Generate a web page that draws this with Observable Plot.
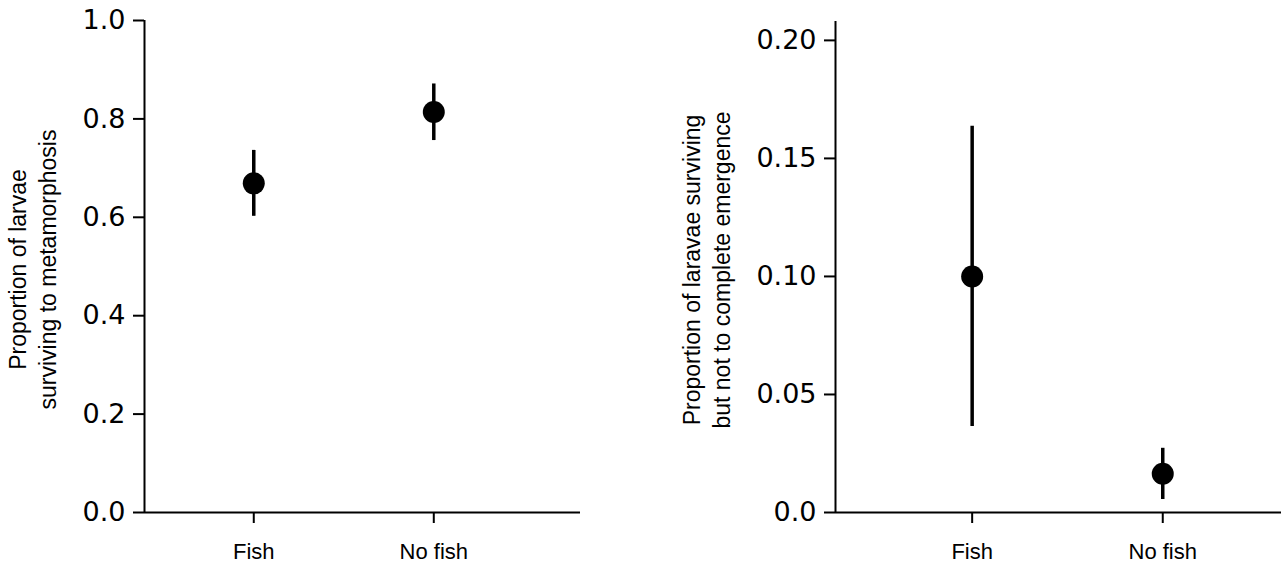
<!DOCTYPE html>
<html>
<head>
<meta charset="utf-8">
<script src="https://cdn.jsdelivr.net/npm/d3@7"></script>
<script src="https://cdn.jsdelivr.net/npm/@observablehq/plot@0.6"></script>
<style>
  body { margin: 0; background: #fff; }
  #wrap { position: relative; width: 1281px; height: 567px; overflow: hidden; background: #fff; }
  #wrap > svg { position: absolute; top: 0; }
</style>
</head>
<body>
<div id="wrap"></div>
<script>
// Data
const categories = ["Fish", "No fish"];

// Panel A: proportion surviving to metamorphosis
const metaMean  = [0.669, 0.814];
const metaLow   = [0.602, 0.756];
const metaHigh  = [0.736, 0.871];
const metaTicks = [0, 0.2, 0.4, 0.6, 0.8, 1.0];
const metaTickLabels = ["0.0", "0.2", "0.4", "0.6", "0.8", "1.0"];
const metaTitle = "Proportion of larvae\nsurviving to metamorphosis";

// Panel B: proportion surviving but not completing emergence
const emergMean  = [0.100, 0.0164];
const emergLow   = [0.0364, 0.0055];
const emergHigh  = [0.1636, 0.0272];
const emergTicks = [0, 0.05, 0.10, 0.15, 0.20];
const emergTickLabels = ["0.0", "0.05", "0.10", "0.15", "0.20"];
const emergTitle = "Proportion of laravae surviving\nbut not to complete emergence";

function rows(mean, low, high) {
  return categories.map((c, i) => ({cat: c, idx: i, mean: mean[i], low: low[i], high: high[i]}));
}

function panel({data, xDomain, yDomain, ticks, tickLabels, title, width, marginLeft, marginRight, marginTop, titleDx}) {
  return Plot.plot({
    width, height: 567,
    marginLeft, marginRight, marginTop, marginBottom: 55,
    style: {fontFamily: "DejaVu Sans", background: "#fff", color: "#000", overflow: "visible"},
    x: {type: "linear", domain: xDomain},
    y: {type: "linear", domain: yDomain},
    marks: [
      Plot.ruleY([yDomain[0]], {stroke: "#000", strokeWidth: 2}),
      Plot.ruleX([xDomain[0]], {y1: yDomain[0], y2: yDomain[1], stroke: "#000", strokeWidth: 2}),
      Plot.axisY({ticks, tickFormat: (d, i) => tickLabels[i], tickSize: 11, tickPadding: 8, fontSize: 27, label: null, strokeWidth: 2, fill: "#000"}),
      Plot.axisX({ticks: [0, 1], tickFormat: i => categories[i], tickSize: 11, tickPadding: 20, fontSize: 22, fontFamily: "Liberation Sans", label: null, strokeWidth: 2, fill: "#000"}),
      Plot.ruleX(data, {x: "idx", y1: "low", y2: "high", stroke: "#000", strokeWidth: 3.5}),
      Plot.dot(data, {x: "idx", y: "mean", r: 11, fill: "#000", stroke: "none"}),
      Plot.text([title], {text: d => d, frameAnchor: "left", textAnchor: "middle", lineAnchor: "middle", rotate: -90, dx: titleDx, dy: 3, fontSize: 23, fontFamily: "Liberation Sans", lineHeight: 1.32, fill: "#000"})
    ]
  });
}

const wrap = document.getElementById("wrap");

const left = panel({
  data: rows(metaMean, metaLow, metaHigh),
  xDomain: [-0.607, 1.815],
  yDomain: [0, 1],
  ticks: metaTicks, tickLabels: metaTickLabels, title: metaTitle,
  width: 640, marginLeft: 144, marginRight: 60, marginTop: 20, titleDx: -113
});
left.style.left = "0px";
wrap.appendChild(left);

const right = panel({
  data: rows(emergMean, emergLow, emergHigh),
  xDomain: [-0.717, 1.623],
  yDomain: [0, 0.208],
  ticks: emergTicks, tickLabels: emergTickLabels, title: emergTitle,
  width: 641, marginLeft: 195, marginRight: 0, marginTop: 21, titleDx: -130
});
right.style.left = "640px";
wrap.appendChild(right);
</script>
</body>
</html>
